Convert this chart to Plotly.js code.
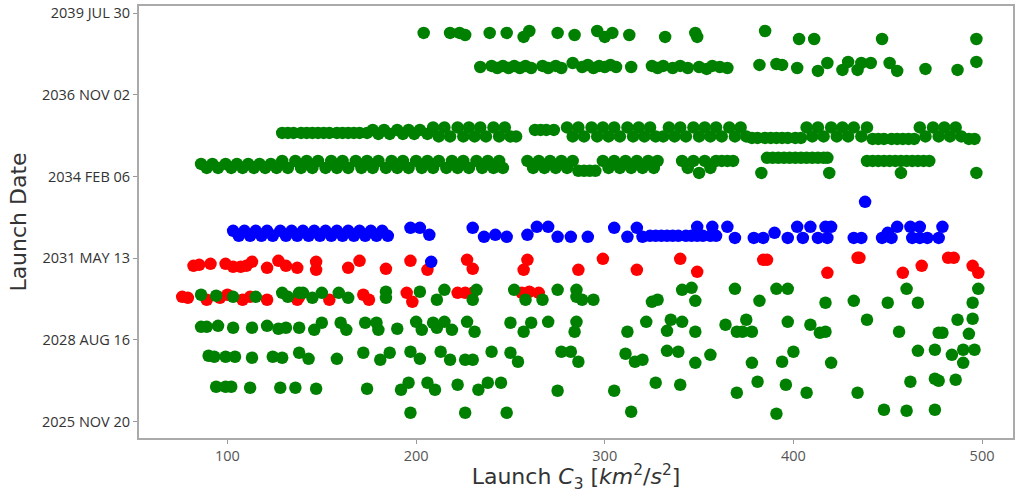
<!DOCTYPE html>
<html><head><meta charset="utf-8">
<script src="https://cdn.plot.ly/plotly-3.0.1.min.js"></script>
<style>html,body{margin:0;padding:0;background:#fff}</style>
</head><body><div id="chart" style="width:1015px;height:493px"></div>
<script>
// ---------------- DATA (launch C3 [km^2/s^2] vs launch date) ----------------
const yTickVals = ["2025-11-20","2028-08-16","2031-05-13","2034-02-06","2036-11-02","2039-07-30"];
const yTickText = ["2025 NOV 20","2028 AUG 16","2031 MAY 13","2034 FEB 06","2036 NOV 02","2039 JUL 30"];
const xTickVals = [100,200,300,400,500];

// green window 2038/39
const gA_c3 = [204,218,223,226,239,248,257,260,275,284,296,300,304,313,332,348,349,385,403,411,447,497];
const gA_date = ["2038-11-30","2038-11-30","2038-11-30","2038-11-05","2038-11-30","2038-11-30","2038-10-12","2038-12-24","2038-11-30","2038-11-05","2038-12-24","2038-10-12","2038-11-30","2038-11-05","2038-10-12","2038-11-30","2038-10-12","2038-12-24","2038-09-17","2038-09-17","2038-09-17","2038-09-17"];

// green window 2037
const gB_c3 = [234,240,243,246,249,252,255,258,261,267,270,274,277,283,288,291,294,297,300,303,306,314,325,328,331,336,340,344,350,354,357,361,365,382,391,394,402,413,418,426,429,434,436,441,451,455,470,487,497];
const gB_date = ["2037-10-09","2037-10-22","2037-09-27","2037-10-22","2037-09-27","2037-10-22","2037-09-27","2037-10-22","2037-09-27","2037-10-22","2037-09-27","2037-10-22","2037-09-27","2037-11-27","2037-10-09","2037-11-03","2037-09-27","2037-10-22","2037-10-09","2037-11-03","2037-10-09","2037-10-09","2037-10-22","2037-09-27","2037-10-22","2037-09-27","2037-10-22","2037-09-27","2037-10-09","2037-09-15","2037-10-22","2037-10-09","2037-09-27","2037-11-03","2037-11-15","2037-11-03","2037-09-27","2037-08-22","2037-11-27","2037-09-03","2037-12-10","2037-09-03","2037-11-27","2037-11-27","2037-11-27","2037-08-22","2037-09-15","2037-09-03","2037-12-10"];

// green window 2035
const cT = "2035-09-30", cB = "2035-06-12", cM = "2035-07-25", cU = "2035-08-30", cJ = "2035-07-12", cL = "2035-05-24", cX = "2035-05-12";
const gC_c3 = [129,132,135,139,142,145,148,151,154,158,161,164,167,170,174,
  177,180,183,186,190,193,196,199,202,206,
  209,212,215,218,222,225,228,231,234,237,241,244,247,250,253,
  263,266,269,273,
  280,283,286,289,293,296,299,302,305,308,312,315,318,321,324,327,
  331,334,337,340,343,347,350,353,356,359,362,366,369,372,375,
  378,381,385,388,391,394,397,401,404,
  407,410,413,416,420,423,426,429,432,436,439,
  442,445,448,452,455,458,461,464,
  467,470,474,477,480,483,486,489,
  493,496];
const gC_date = [cM,cM,cM,cM,cM,cM,cM,cM,cM,cM,cM,cM,cM,cM,cM,
  cU,cJ,cU,cJ,cU,cJ,cU,cJ,cU,cJ,
  cT,cB,cT,cB,cT,cB,cT,cB,cT,cB,cT,cB,cT,cB,cB,
  cU,cU,cU,cU,
  cT,cB,cT,cB,cT,cB,cT,cB,cT,cB,cT,cB,cT,cB,cT,cB,
  cB,cT,cB,cT,cB,cT,cB,cT,cB,cT,cB,cT,cB,cT,cB,
  cL,cL,cL,cL,cL,cL,cL,cL,cL,
  cT,cB,cT,cB,cT,cB,cT,cB,cT,cB,cT,
  cX,cX,cX,cX,cX,cX,cX,cX,
  cT,cB,cT,cB,cT,cB,cT,cB,
  cX,cX];

// green window 2034
const dA = "2034-07-10", dB = "2034-05-22", dH = "2034-08-16", dS = "2034-04-16", dL = "2034-03-22", dT = "2034-09-22";
const gD_c3 = [86,89,92,95,99,102,105,108,111,114,117,120,123,126,
  129,132,136,139,142,145,148,152,155,158,161,164,168,171,174,177,180,184,187,190,193,196,200,203,206,209,212,216,219,222,225,228,
  232,235,238,241,244,246,
  259,262,265,268,271,274,277,280,283,
  286,289,292,295,
  299,302,305,308,311,314,317,320,323,326,328,
  341,344,347,350,353,356,359,362,365,368,
  383,
  386,389,392,395,398,401,404,407,410,413,416,418,
  419,
  439,442,445,448,451,454,457,460,463,466,469,472,
  457,497];
const gD_date = [dA,dB,dA,dB,dA,dB,dA,dB,dA,dB,dA,dB,dA,dB,
  dH,dB,dH,dB,dH,dB,dH,dB,dH,dB,dH,dB,dH,dB,dH,dB,dH,dB,dH,dB,dH,dB,dH,dB,dH,dB,dH,dB,dH,dB,dH,dB,
  dH,dB,dH,dB,dH,dB,
  dH,dB,dH,dB,dH,dB,dH,dB,dH,
  dS,dS,dS,dS,
  dH,dB,dH,dB,dH,dB,dH,dB,dH,dB,dH,
  dH,dB,dH,dL,dH,dB,dH,dH,dH,dH,
  dL,
  dT,dT,dT,dT,dT,dT,dT,dT,dT,dT,dT,dT,
  dL,
  dH,dH,dH,dH,dH,dH,dH,dH,dH,dH,dH,dH,
  dL,dL];

// blue window 2032
const bA = "2032-04-11", bC = "2032-02-10", bT = "2032-05-30", bM = "2032-05-18", bF = "2032-02-22", bJ = "2032-01-29", bK = "2032-01-16", bR = "2032-03-18";
const blue_c3 = [103,106,109,112,115,118,121,124,128,131,134,137,140,143,146,149,152,155,158,161,164,167,170,173,176,179,182,185,
  197,202,207,230,236,242,248,259,264,270,275,282,291,305,312,317,320,
  324,327,330,333,336,339,343,346,349,352,356,359,
  349,357,365,
  369,379,384,390,397,402,405,409,413,417,420,418,432,436,447,450,452,455,462,467,463,467,471,477,479,
  438,208];
const blue_date = [bA,bC,bA,bC,bA,bC,bA,bC,bA,bC,bA,bC,bA,bC,bA,bC,bA,bC,bA,bC,bA,bC,bA,bC,bA,bC,bA,bC,
  bM,bM,bF,bM,bJ,bF,bJ,bF,bT,bT,bJ,bJ,bJ,bM,bJ,bM,bJ,
  bC,bC,bC,bC,bC,bC,bC,bC,bC,bC,bC,bC,
  bT,bT,bT,
  bK,bK,bK,bR,bK,bT,bK,bT,bK,bT,bT,bK,bK,bK,bK,bR,bK,bT,bT,bT,bK,bK,bK,bK,bT,
  "2033-04-01","2031-03-29"];

// red window 2031
const r1_c3 = [82,85,91,99,103,107,110,113,121,127,131,137,147,147,164,170,184,197,206,227,230,257,259,286,299,317,340,349,384,386,418,434,435,458,468,482,485,495,498];
const r1_date = ["2031-02-08","2031-02-20","2031-03-04","2031-03-04","2031-01-27","2031-01-27","2031-02-08","2031-03-29","2031-01-14","2031-04-10","2031-02-08","2031-01-14","2031-03-29","2030-12-21","2031-01-14","2031-04-10","2031-01-02","2031-04-10","2030-12-21","2031-04-22","2031-01-02","2030-12-21","2031-04-22","2030-12-21","2031-05-04","2030-12-21","2031-05-04","2030-11-26","2031-04-22","2031-04-22","2030-11-14","2031-05-17","2031-05-17","2030-11-14","2031-02-08","2031-05-17","2031-05-17","2031-02-08","2030-11-14"];

// red window 2030
const r2_c3 = [76,79,89,96,100,108,112,121,137,138,154,172,175,195,198,222,226,230,256,260,265];
const r2_date = ["2030-01-24","2030-01-12","2029-12-19","2030-01-12","2030-02-18","2029-12-19","2030-01-24","2029-12-19","2029-12-19","2030-01-24","2029-12-19","2030-02-18","2029-12-19","2030-03-14","2029-11-24","2030-03-14","2030-03-14","2030-03-14","2030-03-14","2030-03-27","2030-03-14"];

// green window 2030
const g2_c3 = [86,94,103,115,129,132,138,140,145,150,159,164,184,184,202,211,215,232,230,252,258,267,275,285,285,288,294,325,328,341,346,348,369,382,391,397,417,432,450,460,466,495,498];
const g2_date = ["2030-02-18","2030-02-06","2030-01-24","2030-01-24","2030-03-14","2030-01-24","2030-03-14","2030-03-14","2030-01-12","2030-03-14","2030-03-14","2030-01-12","2030-03-27","2030-01-12","2030-03-27","2029-12-19","2030-04-20","2030-04-20","2029-12-19","2030-04-20","2029-12-19","2029-12-19","2030-04-20","2030-04-20","2030-01-24","2029-12-19","2029-12-19","2029-11-24","2029-12-19","2030-04-20","2030-05-14","2029-12-06","2030-05-02","2029-12-06","2030-05-02","2030-05-02","2029-11-12","2029-12-06","2029-11-12","2030-05-02","2029-11-12","2029-11-12","2030-05-02"];

// green window 2029
const g3_c3 = [86,89,95,103,113,121,127,131,138,146,150,160,163,173,179,180,190,200,203,209,211,215,219,227,231,250,257,261,270,285,284,312,322,335,333,341,348,364,370,375,373,378,397,409,414,417,439,456,477,479,487,495,493];
const g3_date = ["2029-01-22","2029-01-22","2029-02-03","2029-01-10","2029-01-10","2029-02-03","2028-12-29","2029-01-10","2029-01-10","2028-12-16","2029-03-12","2029-03-12","2028-12-16","2029-03-12","2029-03-12","2028-12-16","2028-12-29","2029-03-24","2028-12-16","2029-03-12","2029-01-10","2029-03-24","2028-12-16","2029-03-24","2028-11-22","2029-03-12","2028-11-22","2029-03-12","2029-03-24","2029-03-24","2028-11-22","2028-11-22","2029-03-24","2029-04-18","2028-12-04","2029-03-24","2028-11-22","2029-02-16","2028-11-22","2029-04-18","2028-11-22","2028-11-22","2029-03-24","2029-02-16","2028-11-10","2028-11-22","2029-04-18","2028-11-22","2028-11-10","2028-11-10","2029-04-18","2029-04-30","2028-10-28"];

// green window 2028
const g4_c3 = [90,93,99,104,113,124,129,138,143,158,172,181,186,197,202,213,218,226,230,240,250,254,277,282,286,311,316,320,333,339,348,356,378,394,400,420,466,475,484,490,490,496];
const g4_date = ["2028-02-02","2028-01-21","2028-01-21","2028-01-21","2028-01-09","2028-01-21","2028-01-09","2028-03-10","2027-12-27","2027-12-27","2028-03-10","2027-12-15","2028-03-10","2028-03-22","2027-12-27","2028-03-22","2027-12-15","2027-12-15","2027-12-15","2028-03-22","2028-03-10","2027-11-21","2028-03-22","2028-03-22","2027-11-21","2028-02-27","2027-11-21","2027-12-15","2028-04-03","2028-03-22","2027-11-08","2028-02-14","2027-11-08","2027-11-21","2028-03-22","2027-11-08","2028-04-03","2028-04-16","2028-02-14","2027-11-08","2028-04-16","2028-04-16"];

// green window 2027
const g5_c3 = [94,99,102,112,128,136,147,174,192,196,206,210,222,233,238,245,275,305,327,340,370,381,396,407,434,462,475,477,486];
const g5_date = ["2027-01-19","2027-01-19","2027-01-19","2027-01-06","2027-01-06","2027-01-06","2026-12-25","2026-12-25","2026-12-13","2027-03-09","2027-03-09","2026-12-13","2027-02-12","2026-12-13","2027-03-09","2027-03-09","2026-12-01","2026-12-01","2027-03-09","2027-02-12","2026-11-06","2027-03-21","2027-02-12","2026-11-06","2026-11-06","2027-03-21","2027-04-27","2027-04-02","2027-04-14"];

// green window 2026
const g6_c3 = [197,226,248,314,391,448,460,475];
const g6_date = ["2026-03-06","2026-03-06","2026-03-06","2026-03-19","2026-02-22","2026-04-12","2026-03-31","2026-04-12"];

// ---------------- TRACES ----------------
const greenX = [].concat(gA_c3, gB_c3, gC_c3, gD_c3, g2_c3, g3_c3, g4_c3, g5_c3, g6_c3);
const greenY = [].concat(gA_date, gB_date, gC_date, gD_date, g2_date, g3_date, g4_date, g5_date, g6_date);
const redX = [].concat(r1_c3, r2_c3);
const redY = [].concat(r1_date, r2_date);

const mk = (color) => ({size: 12.5, color: color, line: {width: 0}});
const traces = [
  {type: 'scatter', mode: 'markers', x: redX, y: redY, marker: mk('#ff0000'), hoverinfo: 'x+y'},
  {type: 'scatter', mode: 'markers', x: blue_c3, y: blue_date, marker: mk('#0000ff'), hoverinfo: 'x+y'},
  {type: 'scatter', mode: 'markers', x: greenX, y: greenY, marker: mk('#008000'), hoverinfo: 'x+y'}
];

const layout = {
  width: 1015, height: 493,
  margin: {l: 139, r: 2, t: 6, b: 55},
  paper_bgcolor: '#ffffff', plot_bgcolor: '#ffffff',
  showlegend: false,
  xaxis: {
    range: [53.1, 516.4], tickvals: xTickVals, ticks: 'outside', ticklen: 4, tickcolor: '#999',
    showline: true, mirror: true, linecolor: '#aaaaaa', linewidth: 2,
    showgrid: false, zeroline: false,
    tickfont: {family: 'Open Sans, sans-serif', size: 14.5, color: '#555'},
    title: {text: 'Launch <i>C</i><sub>3</sub> [<i>km</i><sup>2</sup>/<i>s</i><sup>2</sup>]',
            font: {family: 'DejaVu Sans, sans-serif', size: 22, color: '#333'}, standoff: 5}
  },
  yaxis: {
    type: 'date', range: ['2025-05-01', '2039-10-26'],
    tickvals: yTickVals, ticktext: yTickText, ticks: 'outside', ticklen: 4, tickcolor: '#999',
    showline: true, mirror: true, linecolor: '#aaaaaa', linewidth: 2,
    showgrid: false, zeroline: false,
    tickfont: {family: 'Open Sans, sans-serif', size: 14.5, color: '#333'},
    title: {text: 'Launch Date', font: {family: 'DejaVu Sans, sans-serif', size: 22, color: '#333'}, standoff: 9}
  }
};

Plotly.newPlot('chart', traces, layout, {displayModeBar: false, staticPlot: true});
</script></body></html>
